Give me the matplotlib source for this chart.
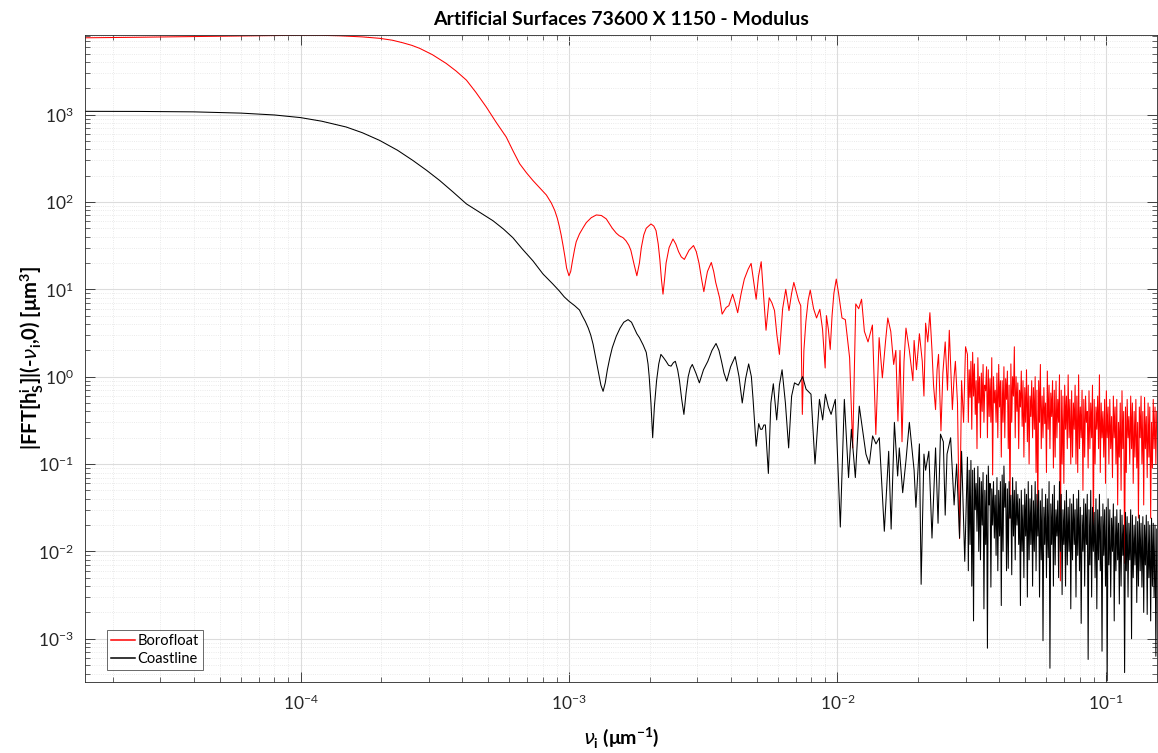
import matplotlib
matplotlib.use("Agg")
import matplotlib.pyplot as plt
from matplotlib.ticker import FixedLocator, NullFormatter, LogFormatterSciNotation
import numpy as np

# ---------------- data ----------------
title = "Artificial Surfaces 73600 X 1150 - Modulus"
series_names = ["Borofloat", "Coastline"]
x_ticks = [1e-4, 1e-3, 1e-2, 1e-1]
y_ticks = [1e-3, 1e-2, 1e-1, 1e0, 1e1, 1e2, 1e3]

# Borofloat: smooth + oscillating part
boro_nu = [1.575e-5, 2.5e-5, 4e-5, 6e-5, 8e-5, 1.0e-4, 1.2e-4, 1.4e-4, 1.7e-4, 1.97e-4,
           2.2e-4, 2.4e-4, 2.6e-4, 2.78e-4, 3.1e-4, 3.49e-4, 3.8e-4, 4.15e-4, 4.5e-4, 4.92e-4,
           5.35e-4, 5.84e-4, 6.2e-4, 6.55e-4, 6.95e-4, 7.34e-4, 7.78e-4, 8.24e-4, 8.6e-4, 8.85e-4,
           9.05e-4, 9.2e-4, 9.35e-4, 9.5e-4, 9.65e-4, 9.8e-4, 1.0e-3, 1.015e-3, 1.03e-3, 1.05e-3,
           1.064e-3, 1.094e-3, 1.13e-3, 1.16e-3, 1.21e-3, 1.264e-3, 1.32e-3, 1.377e-3, 1.45e-3, 1.5e-3,
           1.54e-3, 1.59e-3, 1.63e-3, 1.67e-3, 1.70e-3, 1.75e-3, 1.79e-3, 1.83e-3, 1.86e-3, 1.9e-3,
           1.94e-3, 2.02e-3, 2.07e-3, 2.11e-3, 2.15e-3, 2.18e-3, 2.21e-3, 2.24e-3, 2.27e-3, 2.30e-3,
           2.36e-3, 2.44e-3, 2.5e-3, 2.56e-3, 2.62e-3, 2.69e-3, 2.8e-3, 2.91e-3, 2.98e-3, 3.05e-3,
           3.12e-3, 3.18e-3, 3.23e-3, 3.28e-3, 3.39e-3, 3.46e-3, 3.52e-3, 3.64e-3, 3.72e-3, 3.85e-3,
           3.94e-3, 4.07e-3, 4.16e-3, 4.25e-3, 4.38e-3, 4.5e-3, 4.65e-3, 4.77e-3, 4.88e-3, 4.98e-3,
           5.08e-3, 5.2e-3, 5.3e-3, 5.42e-3, 5.57e-3, 5.7e-3, 5.83e-3, 5.95e-3, 6.08e-3, 6.25e-3,
           6.42e-3, 6.6e-3, 6.75e-3, 6.88e-3, 7.05e-3, 7.17e-3, 7.3e-3, 7.4e-3, 7.5e-3, 7.63e-3,
           7.78e-3, 7.92e-3, 8.15e-3, 8.36e-3, 8.6e-3, 8.8e-3, 9.0e-3, 9.1e-3, 9.25e-3, 9.4e-3,
           9.55e-3, 9.7e-3, 9.9e-3, 1.01e-2, 1.04e-2, 1.07e-2, 1.11e-2, 1.14e-2, 1.17e-2, 1.2e-2,
           1.23e-2, 1.26e-2, 1.3e-2, 1.35e-2, 1.39e-2, 1.43e-2, 1.47e-2, 1.51e-2, 1.54e-2, 1.58e-2,
           1.62e-2, 1.65e-2, 1.68e-2, 1.71e-2, 1.74e-2, 1.77e-2, 1.80e-2, 1.853e-2, 1.91e-2, 1.93e-2,
           1.97e-2, 2.02e-2, 2.07e-2, 2.10e-2, 2.13e-2, 2.17e-2, 2.21e-2, 2.25e-2, 2.28e-2, 2.32e-2,
           2.35e-2, 2.38e-2, 2.43e-2, 2.47e-2, 2.52e-2, 2.57e-2, 2.61e-2, 2.68e-2, 2.72e-2, 2.75e-2,
           2.8e-2, 2.85e-2, 2.9e-2, 2.95e-2, 3.0e-2]
boro_mod = [7570, 7680, 7820, 7950, 8050, 8100, 8080, 7980, 7750, 7470,
            7100, 6650, 6200, 5730, 4850, 3850, 3150, 2480, 1800, 1222,
            820, 553, 380, 274, 215, 176, 145, 120, 97, 80,
            65, 53, 42, 32, 24, 17.5, 14.3, 16, 21, 29,
            35, 43, 51, 58, 66, 71, 70, 64, 50, 44,
            41, 39, 36, 32, 28, 19, 14.3, 20, 30, 42,
            50, 56, 53, 47, 33, 22, 13, 8.8, 13, 20,
            30, 37.7, 33, 27, 23.5, 22, 28, 31.7, 27, 20,
            13, 9.4, 12.5, 16, 20.3, 16, 12, 8, 5.2, 6.2,
            6.5, 8.8, 7, 5.4, 9, 13.1, 17, 19.8, 12, 7.7,
            14, 20.7, 9, 3.4, 8, 7, 5.7, 3, 1.8, 6,
            10, 5.7, 9, 12, 9, 7.4, 6.5, 0.37, 2, 4.3,
            7.5, 9.8, 6, 4.7, 5.9, 3.5, 1.26, 5, 3.5, 2.05,
            5, 9, 13.1, 9, 4.7, 4.5, 1.65, 0.153, 6.8, 6,
            7.7, 3.3, 2.5, 3.9, 0.218, 2.8, 0.97, 2.5, 4.7, 3.3,
            1.38, 2.0, 0.31, 2.0, 0.18, 1.5, 3.6, 2.0, 0.9, 2.6,
            1.2, 3.1, 1.5, 0.6, 4.1, 2.5, 5.4, 2.0, 0.8, 0.42,
            1.2, 1.8, 0.24, 1.1, 2.5, 0.7, 3.4, 0.42, 1.0, 1.5,
            0.5, 0.014, 0.9, 0.3, 2.2]

# Coastline: smooth + oscillating part
coast_nu = [1.575e-5, 2.5e-5, 4e-5, 6e-5, 8e-5, 1.0e-4, 1.2e-4, 1.48e-4, 1.7e-4, 1.97e-4,
            2.3e-4, 2.62e-4, 2.95e-4, 3.3e-4, 3.7e-4, 4.15e-4, 4.65e-4, 5.21e-4, 5.7e-4, 6.18e-4,
            6.7e-4, 7.34e-4, 8.0e-4, 8.71e-4, 9.2e-4, 9.6e-4, 1.0e-3, 1.05e-3, 1.094e-3, 1.12e-3,
            1.15e-3, 1.18e-3, 1.205e-3, 1.23e-3, 1.26e-3, 1.29e-3, 1.315e-3, 1.34e-3, 1.365e-3, 1.39e-3,
            1.42e-3, 1.45e-3, 1.5e-3, 1.55e-3, 1.6e-3, 1.66e-3, 1.71e-3, 1.75e-3, 1.79e-3, 1.83e-3,
            1.89e-3, 1.94e-3, 1.97e-3, 1.99e-3, 2.02e-3, 2.05e-3, 2.08e-3, 2.12e-3, 2.16e-3, 2.20e-3,
            2.25e-3, 2.30e-3, 2.35e-3, 2.40e-3, 2.45e-3, 2.49e-3, 2.54e-3, 2.58e-3, 2.63e-3, 2.68e-3,
            2.73e-3, 2.78e-3, 2.83e-3, 2.88e-3, 2.97e-3, 3.06e-3, 3.17e-3, 3.29e-3, 3.41e-3, 3.53e-3,
            3.62e-3, 3.7e-3, 3.78e-3, 3.87e-3, 4.0e-3, 4.16e-3, 4.3e-3, 4.42e-3, 4.55e-3, 4.67e-3,
            4.78e-3, 4.85e-3, 4.93e-3, 4.98e-3, 5.09e-3, 5.17e-3, 5.24e-3, 5.32e-3, 5.39e-3, 5.53e-3,
            5.65e-3, 5.77e-3, 5.94e-3, 6.08e-3, 6.22e-3, 6.4e-3, 6.58e-3, 6.75e-3, 6.92e-3, 7.15e-3,
            7.42e-3, 7.64e-3, 7.97e-3, 8.25e-3, 8.57e-3, 8.81e-3, 9.02e-3, 9.25e-3, 9.47e-3, 9.82e-3,
            1.025e-2, 1.061e-2, 1.10e-2, 1.127e-2, 1.166e-2, 1.206e-2, 1.24e-2, 1.277e-2, 1.314e-2, 1.352e-2,
            1.392e-2, 1.432e-2, 1.495e-2, 1.552e-2, 1.585e-2, 1.63e-2, 1.676e-2, 1.70e-2, 1.75e-2, 1.80e-2,
            1.853e-2, 1.93e-2, 1.96e-2, 2.02e-2, 2.05e-2, 2.10e-2, 2.13e-2, 2.19e-2, 2.25e-2, 2.32e-2,
            2.37e-2, 2.42e-2, 2.48e-2, 2.52e-2, 2.56e-2, 2.64e-2, 2.72e-2, 2.78e-2, 2.85e-2, 2.90e-2,
            2.98e-2]
coast_mod = [1090, 1087, 1075, 1040, 990, 924, 840, 721, 620, 507,
             390, 299, 230, 176, 130, 95, 76, 61, 49, 39,
             29, 21.2, 15, 11.5, 9.6, 8.2, 7.3, 6.5, 5.8, 5.0,
             4.3, 3.6, 3.0, 2.35, 1.6, 1.1, 0.8, 0.68, 0.85, 1.2,
             1.65, 2.15, 2.9, 3.6, 4.2, 4.5, 4.2, 3.6, 3.1, 2.8,
             2.3, 1.9, 1.4, 1.0, 0.5, 0.2, 0.45, 0.9, 1.4, 1.8,
             1.65, 1.5, 1.35, 1.32, 1.45, 1.5, 1.2, 0.9, 0.55, 0.37,
             0.65, 1.0, 1.25, 1.38, 1.1, 0.85, 1.2, 1.5, 2.0, 2.4,
             2.0, 1.5, 1.1, 0.89, 1.3, 1.7, 1.0, 0.5, 0.95, 1.4,
             1.0, 0.55, 0.25, 0.16, 0.29, 0.25, 0.25, 0.28, 0.28, 0.078,
             0.5, 0.83, 0.32, 0.8, 1.2, 0.5, 0.153, 0.6, 0.85, 0.8,
             1.0, 0.72, 0.63, 0.1, 0.55, 0.32, 0.63, 0.45, 0.37, 0.55,
             0.019, 0.55, 0.07, 0.25, 0.07, 0.46, 0.25, 0.13, 0.1, 0.21,
             0.17, 0.2, 0.017, 0.14, 0.018, 0.3, 0.073, 0.153, 0.047, 0.11,
             0.3, 0.085, 0.032, 0.17, 0.0042, 0.13, 0.085, 0.14, 0.0142, 0.153,
             0.021, 0.22, 0.18, 0.026, 0.13, 0.2, 0.034, 0.1, 0.0142, 0.14,
             0.0077]

# dense high-frequency part: local maxima samples ...
dense_nu_a = [0.0305, 0.03096, 0.03142, 0.03189, 0.03237, 0.03286, 0.03335, 0.03385, 0.03436, 0.03487,
              0.03540, 0.03593, 0.03647, 0.03701, 0.03757, 0.03813, 0.03870, 0.03928, 0.03987, 0.04047,
              0.04108, 0.04170, 0.04232, 0.04296, 0.04360, 0.04426, 0.04492, 0.04560, 0.04628, 0.04698,
              0.04768, 0.04840, 0.04912, 0.04986, 0.05061, 0.05137, 0.05214, 0.05292, 0.05372, 0.05452,
              0.05534, 0.05617, 0.05701, 0.05787, 0.05874, 0.05962, 0.06051, 0.06142, 0.06234, 0.06328,
              0.06423, 0.06519, 0.06617, 0.06716, 0.06817, 0.06919, 0.07023, 0.07128, 0.07235, 0.07344,
              0.07454, 0.07566, 0.07679, 0.07795, 0.07912, 0.08030, 0.08151, 0.08273, 0.08397, 0.08523,
              0.08651, 0.08781, 0.08913, 0.09046, 0.09182, 0.09320, 0.09460, 0.09601, 0.09745, 0.09892,
              0.1004, 0.1019, 0.1034, 0.1050, 0.1066, 0.1082, 0.1098, 0.1114, 0.1131, 0.1148,
              0.1165, 0.1183, 0.1200, 0.1218, 0.1237, 0.1255, 0.1274, 0.1293, 0.1313, 0.1332,
              0.1352, 0.1373, 0.1393, 0.1414, 0.1436, 0.1457, 0.1479, 0.1501, 0.1524, 0.1547]
# ... and local minima samples in between
dense_nu_b = [0.03073, 0.03119, 0.03165, 0.03213, 0.03261, 0.03310, 0.03360, 0.03410, 0.03461, 0.03513,
              0.03566, 0.03620, 0.03674, 0.03729, 0.03785, 0.03841, 0.03899, 0.03957, 0.04017, 0.04077,
              0.04139, 0.04201, 0.04264, 0.04328, 0.04393, 0.04459, 0.04526, 0.04594, 0.04663, 0.04733,
              0.04804, 0.04876, 0.04949, 0.05023, 0.05099, 0.05175, 0.05253, 0.05332, 0.05412, 0.05493,
              0.05575, 0.05659, 0.05744, 0.05830, 0.05918, 0.06006, 0.06096, 0.06188, 0.06281, 0.06375,
              0.06471, 0.06568, 0.06666, 0.06766, 0.06868, 0.06971, 0.07075, 0.07181, 0.07289, 0.07399,
              0.07510, 0.07622, 0.07737, 0.07853, 0.07971, 0.08090, 0.08212, 0.08335, 0.08460, 0.08587,
              0.08716, 0.08847, 0.08979, 0.09114, 0.09251, 0.09390, 0.09530, 0.09673, 0.09818, 0.09966,
              0.1011, 0.1026, 0.1042, 0.1058, 0.1074, 0.1090, 0.1106, 0.1122, 0.1139, 0.1156,
              0.1174, 0.1191, 0.1209, 0.1227, 0.1246, 0.1264, 0.1283, 0.1303, 0.1322, 0.1342,
              0.1362, 0.1383, 0.1403, 0.1425, 0.1446, 0.1468, 0.1490, 0.1512, 0.1535]

boro_peaks = [1.8, 1.2, 1.5, 1.9, 1.4, 0.9, 1.65, 1.0, 1.1, 1.38,
              0.8, 1.3, 1.2, 0.95, 1.65, 1.0, 0.7, 1.1, 1.38, 0.9,
              0.9, 1.3, 0.95, 1.16, 0.8, 1.4, 1.0, 2.2, 1.0, 0.85,
              0.7, 1.16, 0.9, 0.75, 1.2, 0.8, 0.6, 0.9, 0.75, 1.0,
              0.7, 0.9, 1.38, 0.6, 0.75, 0.5, 1.16, 0.8, 0.65, 0.9,
              0.7, 0.89, 0.55, 1.05, 0.7, 0.6, 0.8, 0.6, 1.05, 0.55,
              0.69, 0.5, 0.8, 0.6, 1.05, 0.45, 0.7, 0.55, 0.6, 0.4,
              0.69, 0.5, 0.8, 0.55, 0.45, 0.6, 1.05, 0.5, 0.4, 0.55,
              0.69, 0.45, 0.55, 0.35, 0.6, 0.45, 0.55, 0.3, 0.5, 0.69,
              0.4, 0.45, 0.55, 0.35, 0.6, 0.5, 0.4, 0.55, 0.3, 0.45,
              0.6, 0.4, 0.58, 0.35, 0.5, 0.45, 0.3, 0.55, 0.45, 0.4]
boro_dips = [0.3, 0.58, 0.25, 0.6, 0.37, 0.15, 0.5, 0.2, 0.4, 0.3,
             0.69, 0.2, 0.35, 0.3, 0.075, 0.5, 0.3, 0.2, 0.45, 0.12,
             0.3, 0.2, 0.55, 0.15, 0.024, 0.3, 0.6, 0.2, 0.4, 0.15,
             0.45, 0.27, 0.12, 0.3, 0.18, 0.1, 0.35, 0.2, 0.25, 0.08,
             0.021, 0.3, 0.15, 0.2, 0.29, 0.08, 0.25, 0.15, 0.35, 0.09,
             0.12, 0.2, 0.3, 0.0046, 0.1, 0.06, 0.25, 0.15, 0.2, 0.1,
             0.12, 0.25, 0.1, 0.08, 0.15, 0.2, 0.05, 0.12, 0.3, 0.09,
             0.15, 0.2, 0.017, 0.1, 0.25, 0.15, 0.08, 0.2, 0.12, 0.06,
             0.2, 0.1, 0.15, 0.07, 0.2, 0.1, 0.034, 0.12, 0.05, 0.15,
             0.0073, 0.08, 0.2, 0.1, 0.15, 0.06, 0.12, 0.09, 0.024, 0.2,
             0.1, 0.034, 0.15, 0.07, 0.12, 0.024, 0.09, 0.15, 0.1]

coast_peaks = [0.12, 0.085, 0.11, 0.085, 0.09, 0.06, 0.094, 0.07, 0.063, 0.08,
               0.05, 0.075, 0.095, 0.06, 0.052, 0.063, 0.044, 0.07, 0.05, 0.063,
               0.075, 0.095, 0.06, 0.052, 0.063, 0.044, 0.07, 0.05, 0.063, 0.045,
               0.04, 0.05, 0.034, 0.052, 0.045, 0.063, 0.04, 0.057, 0.038, 0.063,
               0.045, 0.05, 0.038, 0.052, 0.032, 0.045, 0.04, 0.063, 0.035, 0.045,
               0.057, 0.03, 0.038, 0.063, 0.045, 0.03, 0.038, 0.05, 0.032, 0.04,
               0.035, 0.045, 0.03, 0.04, 0.05, 0.032, 0.026, 0.04, 0.035, 0.045,
               0.03, 0.05, 0.032, 0.028, 0.04, 0.03, 0.045, 0.025, 0.035, 0.03,
               0.032, 0.04, 0.03, 0.024, 0.035, 0.025, 0.03, 0.021, 0.03, 0.026,
               0.02, 0.028, 0.025, 0.021, 0.03, 0.026, 0.02, 0.025, 0.022, 0.026,
               0.021, 0.025, 0.02, 0.026, 0.022, 0.02, 0.024, 0.021, 0.02, 0.018]
coast_dips = [0.006, 0.012, 0.004, 0.0016, 0.03, 0.017, 0.01, 0.008, 0.02, 0.0022,
              0.012, 0.00078, 0.034, 0.0039, 0.02, 0.0142, 0.009, 0.006, 0.015, 0.0024,
              0.01, 0.032, 0.006, 0.0064, 0.024, 0.0054, 0.015, 0.008, 0.02, 0.012,
              0.0024, 0.01, 0.005, 0.015, 0.003, 0.008, 0.012, 0.004, 0.01, 0.006,
              0.015, 0.003, 0.008, 0.00095, 0.012, 0.005, 0.0085, 0.00046, 0.012, 0.004,
              0.007, 0.015, 0.005, 0.01, 0.0032, 0.012, 0.004, 0.007, 0.01, 0.0022,
              0.008, 0.012, 0.003, 0.009, 0.006, 0.0015, 0.01, 0.004, 0.012, 0.00058,
              0.007, 0.003, 0.01, 0.005, 0.0022, 0.008, 0.006, 0.00072, 0.009, 0.004,
              0.00033, 0.007, 0.003, 0.01, 0.0016, 0.006, 0.008, 0.0025, 0.004, 0.009,
              0.00041, 0.006, 0.003, 0.008, 0.001, 0.005, 0.007, 0.0026, 0.004, 0.006,
              0.0039, 0.002, 0.007, 0.0019, 0.005, 0.0016, 0.004, 0.003, 0.00063]


def assemble(nu_low, mod_low, peaks, dips):
    nu_hi = np.array(dense_nu_a + dense_nu_b)
    mod_hi = np.array(peaks + dips)
    order = np.argsort(nu_hi)
    nu = np.concatenate([np.array(nu_low), nu_hi[order]])
    mod = np.concatenate([np.array(mod_low), mod_hi[order]])
    return nu, mod


boro_x, boro_y = assemble(boro_nu, boro_mod, boro_peaks, boro_dips)
coast_x, coast_y = assemble(coast_nu, coast_mod, coast_peaks, coast_dips)

# ---------------- style ----------------
plt.rcParams['font.family'] = ['Lato', 'DejaVu Sans']
plt.rcParams['mathtext.fontset'] = 'custom'
plt.rcParams['mathtext.rm'] = 'Lato'
plt.rcParams['mathtext.it'] = 'DejaVu Sans:italic'
plt.rcParams['mathtext.bf'] = 'Lato:bold'

fig = plt.figure(figsize=(11.58, 7.53), dpi=100)
ax = fig.add_axes([85/1158, 71/753, 1072/1158, 647/753])

ax.plot(boro_x, boro_y, color='#ff0000', lw=0.75, label=series_names[0])
ax.plot(coast_x, coast_y, color='black', lw=0.75, label=series_names[1])

ax.set_xscale('log')
ax.set_yscale('log')
ax.set_xlim(1.575e-5, 0.155)
ax.set_ylim(3.2e-4, 8150)

x_minor = [m * 10.0**e for e in range(-5, 0) for m in range(2, 10)]
y_minor = [m * 10.0**e for e in range(-4, 4) for m in range(2, 10)]
ax.xaxis.set_major_locator(FixedLocator(x_ticks))
ax.yaxis.set_major_locator(FixedLocator(y_ticks))
ax.xaxis.set_minor_locator(FixedLocator(x_minor))
ax.yaxis.set_minor_locator(FixedLocator(y_minor))
ax.xaxis.set_major_formatter(LogFormatterSciNotation())
ax.yaxis.set_major_formatter(LogFormatterSciNotation())
ax.xaxis.set_minor_formatter(NullFormatter())
ax.yaxis.set_minor_formatter(NullFormatter())

ax.grid(True, which='major', color='#dcdcdc', lw=0.8, ls='-')
ax.grid(True, which='minor', color='#e3e3e3', lw=0.6, ls=':')
ax.set_axisbelow(True)

for s in ax.spines.values():
    s.set_color('#262626')
    s.set_linewidth(0.6)
ax.tick_params(which='both', direction='in', top=True, right=True, colors='#262626',
               labelsize=12.5, labelcolor='#262626')
ax.tick_params(which='major', length=7, width=0.6, pad=8)
ax.tick_params(which='minor', length=3.5, width=0.5)

ax.set_title(title, fontsize=14, fontweight='bold', pad=7)
ax.set_xlabel(r'$\nu_{\mathbf{i}}$ (μm$^{\mathbf{-1}}$)', fontsize=14, fontweight='bold', labelpad=9)
ax.set_ylabel(r'|FFT[h$_{\mathbf{S}}^{\mathbf{i}}$]|(-$\nu_{\mathbf{i}}$,0) [μm$^{\mathbf{3}}$]',
              fontsize=14.5, fontweight='bold', labelpad=-6)

leg = ax.legend(loc='lower left', fontsize=10.5, frameon=True, fancybox=False,
                handlelength=1.6, borderpad=0.3, labelspacing=0.25, handletextpad=0.2,
                borderaxespad=0.0, bbox_to_anchor=(22/1072, 12/647))
for ln in leg.get_lines():
    ln.set_linewidth(1.1)
leg.get_frame().set_edgecolor('#262626')
leg.get_frame().set_linewidth(0.6)

fig.savefig('out.png', dpi=100)
